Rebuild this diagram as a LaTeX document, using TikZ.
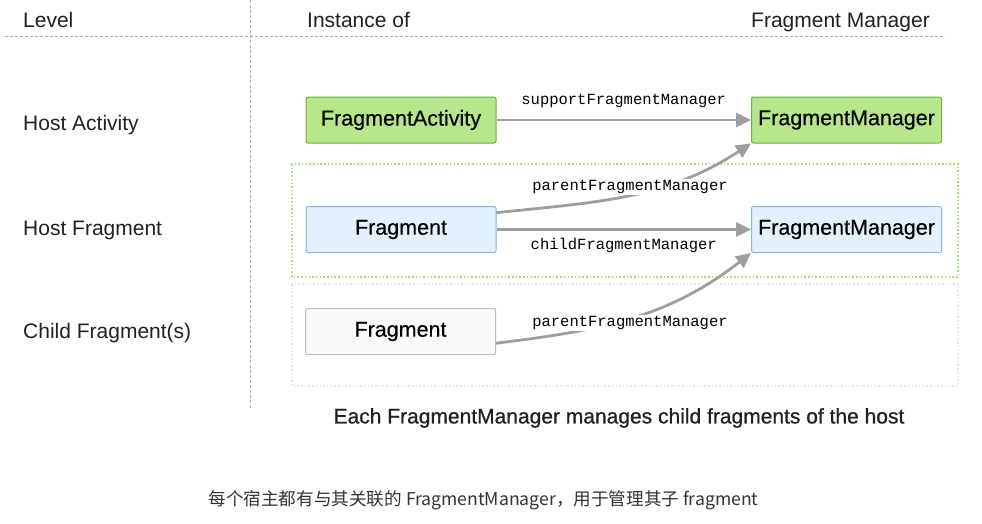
\documentclass[tikz,border=0pt]{standalone}
\usepackage{fontspec}
\setmainfont{Liberation Sans}
\setmonofont{Liberation Mono}
\newfontfamily\cjk{Noto Sans CJK SC}
\newfontfamily\medfont[FakeBold=0.8]{Liberation Sans}
\newfontfamily\boxfont[FakeBold=0.3]{Liberation Sans}
\usetikzlibrary{arrows.meta}
\definecolor{txt}{HTML}{202124}
\definecolor{gfill}{HTML}{B7E68B}
\definecolor{gdraw}{HTML}{6FAE3C}
\definecolor{bfill}{HTML}{E3F0FD}
\definecolor{bdraw}{HTML}{86B6EA}
\definecolor{cfill}{HTML}{FAFAFA}
\definecolor{cdraw}{HTML}{BDBDBD}
\definecolor{arr}{HTML}{9E9E9E}
\definecolor{gdot}{HTML}{A4E26C}
\definecolor{bdot}{HTML}{D8E7FA}
\definecolor{guide}{HTML}{AAAAAA}
\tikzset{
  hdr/.style={font=\fontsize{21}{25}\selectfont, text=txt, inner sep=0pt},
  box/.style={rectangle, rounded corners=2pt, minimum width=190pt, minimum height=46pt, line width=1pt, font=\boxfont\fontsize{21.5}{25}\selectfont, text=black, inner sep=0pt},
  greenbox/.style={box, fill=gfill, draw=gdraw},
  bluebox/.style={box, fill=bfill, draw=bdraw},
  childbox/.style={box, fill=cfill, draw=cdraw},
  conn/.style={draw=arr, line width=2.8pt, -{Triangle[length=15pt,width=14pt]}},
  lbl/.style={font=\ttfamily\fontsize{15.5}{18}\selectfont, text=black, inner sep=1pt},
  guideline/.style={draw=guide, line width=0.6pt, dash pattern=on 3pt off 2pt},
}
\begin{document}
\begin{tikzpicture}[x=1pt,y=1pt]
\useasboundingbox (0,0) rectangle (982,-523);
% guides
\coordinate (hl1) at (5,-36); \coordinate (hl2) at (945,-36);
\coordinate (vl1) at (250,0); \coordinate (vl2) at (250,-408);
\draw[guideline] (hl1) -- (hl2);
\draw[guideline] (vl1) -- (vl2);
% headers
\node[hdr, anchor=base west] (hLevel) at (23,-27) {Level};
\node[hdr, anchor=base west] (hInst) at (307,-27) {Instance of};
\node[hdr, anchor=base east] (hFM) at (930,-27) {Fragment Manager};
% row labels
\node[hdr, anchor=base west] (rHA) at (23,-130) {Host Activity};
\node[hdr, anchor=base west] (rHF) at (23,-235) {Host Fragment};
\node[hdr, anchor=base west] (rCF) at (23,-338) {Child Fragment(s)};
% dotted regions
\draw[draw=gdot, line width=1.8pt, dash pattern=on 1.5pt off 2.2pt] (292,-164) rectangle (958,-277);
\draw[draw=bdot, line width=1.8pt, dash pattern=on 1.5pt off 2.2pt] (292,-284) rectangle (958,-386);
% boxes
\node[greenbox] (fa) at (401,-120) {FragmentActivity};
\node[greenbox] (fm1) at (846.5,-120) {FragmentManager};
\node[bluebox] (hf) at (401,-229.5) {Fragment};
\node[bluebox] (fm2) at (846.5,-229.5) {FragmentManager};
\node[childbox] (cf) at (400.5,-331.5) {Fragment};
% connectors
\draw[conn] (fa.east) -- node[lbl, above=10pt] (l1) {supportFragmentManager} (fm1.west);
\draw[conn] (hf.10) to[out=6,in=213] (fm1.south west);
\node[lbl, fill=white] (l2) at (630,-187) {parentFragmentManager};
\draw[conn] (hf.east) -- node[lbl, below=6pt] (l3) {childFragmentManager} (fm2.west);
\draw[conn] (cf.-7) to[out=7,in=218] (fm2.south west);
\node[lbl, fill=white] (l4) at (630,-323) {parentFragmentManager};
% captions
\node[font=\medfont\fontsize{21}{25}\selectfont, text=txt, inner sep=0pt] (cap) at (619,-418) {Each FragmentManager manages child fragments of the host};
\node[font=\cjk\fontsize{17.6}{21}\selectfont, text=black!80, inner sep=0pt] (cap2) at (483.5,-500) {每个宿主都有与其关联的 FragmentManager，用于管理其子 fragment};
\end{tikzpicture}
\end{document}
